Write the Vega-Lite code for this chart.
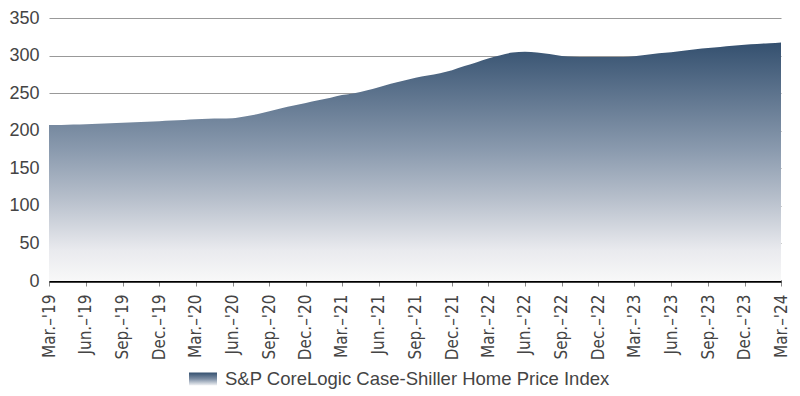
{
  "$schema": "https://vega.github.io/schema/vega-lite/v6.json",
  "width": 732,
  "height": 263,
  "autosize": {"type": "none"},
  "padding": {"left": 49, "top": 18, "right": 19, "bottom": 115},
  "background": "white",
  "data": {
    "values": [
      {"date": "2019-03-01", "value": 207.5},
      {"date": "2019-04-01", "value": 207.6},
      {"date": "2019-05-01", "value": 208.2},
      {"date": "2019-06-01", "value": 208.7},
      {"date": "2019-07-01", "value": 209.3},
      {"date": "2019-08-01", "value": 210.0},
      {"date": "2019-09-01", "value": 210.6},
      {"date": "2019-10-01", "value": 211.3},
      {"date": "2019-11-01", "value": 212.0},
      {"date": "2019-12-01", "value": 212.6},
      {"date": "2020-01-01", "value": 213.5},
      {"date": "2020-02-01", "value": 214.4},
      {"date": "2020-03-01", "value": 215.4},
      {"date": "2020-04-01", "value": 216.0},
      {"date": "2020-05-01", "value": 216.2},
      {"date": "2020-06-01", "value": 216.6},
      {"date": "2020-07-01", "value": 219.0},
      {"date": "2020-08-01", "value": 222.0},
      {"date": "2020-09-01", "value": 226.0},
      {"date": "2020-10-01", "value": 230.0},
      {"date": "2020-11-01", "value": 233.5},
      {"date": "2020-12-01", "value": 237.0},
      {"date": "2021-01-01", "value": 240.5},
      {"date": "2021-02-01", "value": 244.0},
      {"date": "2021-03-01", "value": 247.5},
      {"date": "2021-04-01", "value": 250.0},
      {"date": "2021-05-01", "value": 253.5},
      {"date": "2021-06-01", "value": 258.0},
      {"date": "2021-07-01", "value": 262.5},
      {"date": "2021-08-01", "value": 266.5},
      {"date": "2021-09-01", "value": 270.5},
      {"date": "2021-10-01", "value": 273.5},
      {"date": "2021-11-01", "value": 276.5},
      {"date": "2021-12-01", "value": 280.5},
      {"date": "2022-01-01", "value": 286.0},
      {"date": "2022-02-01", "value": 291.0},
      {"date": "2022-03-01", "value": 296.0},
      {"date": "2022-04-01", "value": 300.5},
      {"date": "2022-05-01", "value": 304.0},
      {"date": "2022-06-01", "value": 305.0},
      {"date": "2022-07-01", "value": 304.0},
      {"date": "2022-08-01", "value": 302.0},
      {"date": "2022-09-01", "value": 299.5},
      {"date": "2022-10-01", "value": 298.5},
      {"date": "2022-11-01", "value": 298.0},
      {"date": "2022-12-01", "value": 298.0},
      {"date": "2023-01-01", "value": 298.0},
      {"date": "2023-02-01", "value": 298.0},
      {"date": "2023-03-01", "value": 299.0},
      {"date": "2023-04-01", "value": 301.0},
      {"date": "2023-05-01", "value": 303.0},
      {"date": "2023-06-01", "value": 304.5},
      {"date": "2023-07-01", "value": 306.5},
      {"date": "2023-08-01", "value": 308.5},
      {"date": "2023-09-01", "value": 310.0},
      {"date": "2023-10-01", "value": 311.5},
      {"date": "2023-11-01", "value": 313.0},
      {"date": "2023-12-01", "value": 314.5},
      {"date": "2024-01-01", "value": 315.5},
      {"date": "2024-02-01", "value": 316.5},
      {"date": "2024-03-01", "value": 317.5}
    ]
  },
  "encoding": {
    "x": {
      "field": "date",
      "type": "temporal",
      "scale": {"type": "utc", "nice": false, "padding": 0},
      "axis": {
        "title": null,
        "grid": false,
        "domainColor": "#000000",
        "domainWidth": 2.5,
        "tickColor": "#888888",
        "tickSize": 5,
        "tickWidth": 1,
        "labelAngle": -90,
        "labelPadding": 8,
        "labelFont": "DejaVu Sans Condensed, Liberation Sans Narrow, sans-serif",
        "labelFontSize": 17,
        "labelColor": "#444444",
        "labelOverlap": false,
        "labelFlush": false,
        "values": [
          {"year": 2019, "month": 3, "date": 1, "utc": true},
          {"year": 2019, "month": 6, "date": 1, "utc": true},
          {"year": 2019, "month": 9, "date": 1, "utc": true},
          {"year": 2019, "month": 12, "date": 1, "utc": true},
          {"year": 2020, "month": 3, "date": 1, "utc": true},
          {"year": 2020, "month": 6, "date": 1, "utc": true},
          {"year": 2020, "month": 9, "date": 1, "utc": true},
          {"year": 2020, "month": 12, "date": 1, "utc": true},
          {"year": 2021, "month": 3, "date": 1, "utc": true},
          {"year": 2021, "month": 6, "date": 1, "utc": true},
          {"year": 2021, "month": 9, "date": 1, "utc": true},
          {"year": 2021, "month": 12, "date": 1, "utc": true},
          {"year": 2022, "month": 3, "date": 1, "utc": true},
          {"year": 2022, "month": 6, "date": 1, "utc": true},
          {"year": 2022, "month": 9, "date": 1, "utc": true},
          {"year": 2022, "month": 12, "date": 1, "utc": true},
          {"year": 2023, "month": 3, "date": 1, "utc": true},
          {"year": 2023, "month": 6, "date": 1, "utc": true},
          {"year": 2023, "month": 9, "date": 1, "utc": true},
          {"year": 2023, "month": 12, "date": 1, "utc": true},
          {"year": 2024, "month": 3, "date": 1, "utc": true}
        ],
        "labelExpr": "utcFormat(datum.value, '%b') + \".–'\" + utcFormat(datum.value, '%y')"
      }
    },
    "y": {
      "field": "value",
      "type": "quantitative",
      "scale": {"domain": [0, 350], "nice": false},
      "axis": {
        "title": null,
        "values": [0, 50, 100, 150, 200, 250, 300, 350],
        "domain": false,
        "ticks": false,
        "gridColor": "#999999",
        "gridWidth": 1,
        "labelPadding": 10,
        "labelFont": "Liberation Sans, Arial, sans-serif",
        "labelFontSize": 18,
        "labelColor": "#444444"
      }
    }
  },
  "layer": [
    {
      "mark": {
        "type": "area",
        "interpolate": "monotone",
        "fill": {
          "gradient": "linear",
          "x1": 0, "y1": 0, "x2": 0, "y2": 1,
          "stops": [
            {"offset": 0, "color": "#34506f"},
            {"offset": 0.45, "color": "#8a9aae"},
            {"offset": 0.66, "color": "#b8c0cc"},
            {"offset": 0.87, "color": "#e9eaee"},
            {"offset": 1, "color": "#f8f8f8"}
          ]
        }
      }
    },
    {
      "mark": {
        "type": "point",
        "opacity": 0,
        "filled": true,
        "color": {
          "gradient": "linear",
          "x1": 0, "y1": 0, "x2": 0, "y2": 1,
          "stops": [
            {"offset": 0, "color": "#34506f"},
            {"offset": 0.5, "color": "#7f90a6"},
            {"offset": 1, "color": "#f2f3f5"}
          ]
        }
      },
      "encoding": {
        "shape": {
          "datum": "S&P CoreLogic Case-Shiller Home Price Index",
          "scale": {"range": ["M-1,-0.464H1V0.464H-1Z"]},
          "legend": {
            "title": null,
            "orient": "none",
            "legendX": 140,
            "legendY": 347,
            "padding": 0,
            "symbolSize": 784,
            "symbolOpacity": 1,
            "symbolStrokeWidth": 0,
            "labelOffset": 8,
            "labelFont": "Liberation Sans, Arial, sans-serif",
            "labelFontSize": 18.5,
            "labelColor": "#444444",
            "labelLimit": 600,
            "encode": {
              "symbols": {
                "update": {
                  "opacity": {"value": 1},
                  "strokeWidth": {"value": 0}
                }
              }
            }
          }
        }
      }
    }
  ],
  "config": {
    "view": {"stroke": null}
  }
}
